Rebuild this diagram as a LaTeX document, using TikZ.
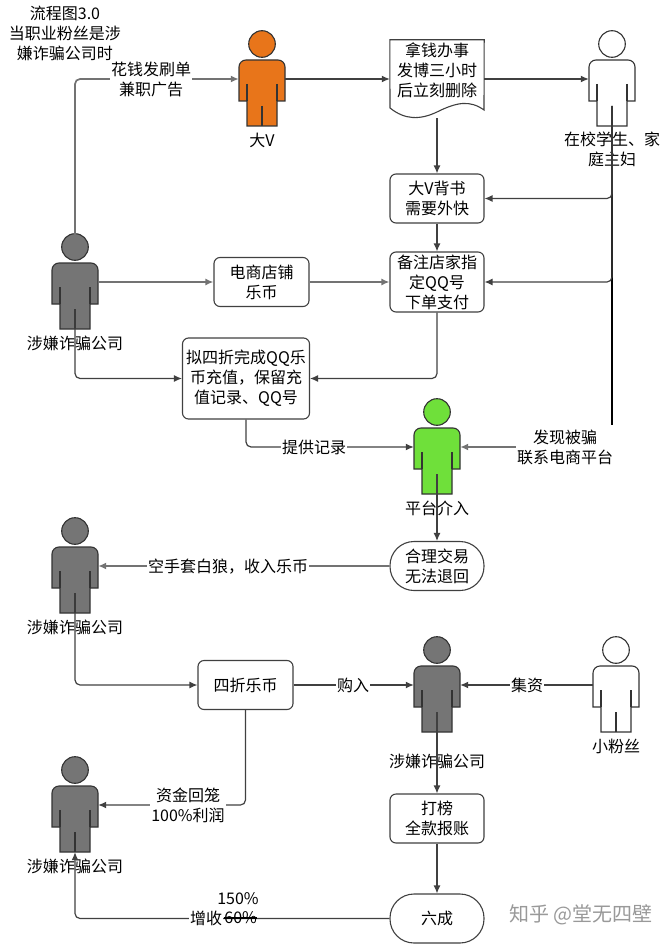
\documentclass[tikz,border=0pt]{standalone}
\usepackage{fontspec}
\setmainfont{Noto Sans CJK SC}
\usetikzlibrary{arrows.meta, positioning}

\definecolor{darkline}{HTML}{404040}
\definecolor{fillorange}{HTML}{E8751A}
\definecolor{fillgreen}{HTML}{6FE03A}
\definecolor{fillgray}{HTML}{757575}

\tikzset{
  box/.style = {draw=darkline, line width=1.1pt, rounded corners=6pt, fill=white, align=center,
                minimum width=94pt, inner sep=0pt},
  pill/.style = {box, rounded corners=24pt, minimum height=49pt},
  tag/.style = {fill=white, inner sep=1pt, align=center},
  caption/.style = {align=center, inner sep=0pt},
  flow/.style = {-{Latex[length=8pt,width=7pt]}, darkline, line width=1.2pt, rounded corners=5pt},
  flowthick/.style = {flow, line width=1.7pt, draw=black!55},
  person/.style = {minimum width=46pt, minimum height=94pt, inner sep=0pt}
}

% caption gap, name, position, fill colour, caption
\newcommand{\actor}[5][7pt]{
  \node (#2) [person] at (#3) {};
  \begin{scope}[shift={(#2.center)}, fill=#4, draw=black!80, line width=1.1pt]
    \filldraw (0,35) circle (13.3);
    \filldraw (-23,-22) -- (-23,12) arc (180:90:7) -- (16,19) arc (90:0:7)
      -- (23,-22) -- (15,-22) -- (15,-47) -- (-15,-47) -- (-15,-22) -- cycle;
    \draw (-15,-5) -- (-15,-22) (15,-5) -- (15,-22) (0,-27) -- (0,-47);
  \end{scope}
  \coordinate (#2-leg) at ([yshift=-27pt]#2.center);
  \node (#2-cap) [caption, below=#1 of #2] {#5};
}

\begin{document}
\begin{tikzpicture}[x=1pt, y=1pt, font=\fontsize{16}{20}\selectfont]
  \useasboundingbox (0,0) rectangle (669,-944);

  \actor{dav}{262,-79}{fillorange}{大V}
  \actor[6pt]{fan}{612,-79}{white}{在校学生、家\\庭主妇}
  \actor{coa}{75,-282}{fillgray}{涉嫌诈骗公司}
  \actor{plat}{437,-447}{fillgreen}{平台介入}
  \actor{cob}{75,-566}{fillgray}{涉嫌诈骗公司}
  \actor[22pt]{coc}{437,-685}{fillgray}{涉嫌诈骗公司}
  \actor{small}{616,-685}{white}{小粉丝}
  \actor{cod}{75,-805}{fillgray}{涉嫌诈骗公司}

  \node (doc) [minimum width=94pt, minimum height=78pt, inner sep=0pt] at (437,-79) {};
  \draw [darkline, line width=1.1pt, fill=white] (doc.north west) -- (doc.north east) -- (484,-110)
    .. controls (470,-100) and (457,-102) .. (437,-112)
    .. controls (420,-120) and (405,-120) .. (390,-108) -- cycle;
  \node (doctext) [caption] at (437,-70) {拿钱办事\\发博三小时\\后立刻删除};

  \node (back) [box, minimum height=49pt] at (437,-198.5) {大V背书\\需要外快};
  \node (note) [box, minimum height=60pt] at (437,-282) {备注店家指\\定QQ号\\下单支付};
  \node (shop) [box, minimum width=95pt, minimum height=49pt] at (261.5,-282) {电商店铺\\乐币};
  \node (qbi) [box, minimum width=127pt, minimum height=81pt] at (246,-378.5) {拟四折完成QQ乐\\币充值，保留充\\值记录、QQ号};
  \node (deal) [pill] at (437,-566) {合理交易\\无法退回};
  \node (sizhe) [box, minimum width=95pt, minimum height=49pt] at (245.5,-685) {四折乐币};
  \node (rank) [box, minimum height=49pt] at (437,-818.5) {打榜\\全款报账};
  \node (six) [pill] at (437,-918.5) {六成};

  \draw [flowthick] (coa.north) |- (dav);
  \draw [flow] (dav) -- (doc);
  \draw [flow] (doc) -- (fan);
  \draw [flow] (doc) -- (back);
  \draw [flow] (back) -- (note);
  \draw [flowthick] (coa) -- (shop);
  \draw [flowthick] (shop) -- (note);
  \draw [flow] (note.south) |- (qbi);
  \draw [flow] (coa-leg) |- (qbi);
  \draw [flow] (qbi.south) |- (plat);
  \coordinate (fanend) at (612,-425);
  \draw [black, line width=1.1pt] (fan-leg) -- (fanend);
  \draw [flow] (fan-leg) |- (back);
  \draw [flow] (fan-leg) |- (note);
  \coordinate (cheat) at (517,-447);
  \draw [flowthick] (cheat) -- (plat);
  \draw [flow] (plat-leg) -- (deal);
  \draw [flowthick] (deal) -- (cob);
  \draw [flow] (cob-leg) |- (sizhe);
  \draw [flow] (sizhe) -- (coc);
  \draw [flow] (small) -- (coc);
  \draw [flow] (coc-leg) -- (rank);
  \draw [flow] (rank) -- (six);
  \draw [flow] (sizhe.south) |- (cod);
  \draw [flow] (six) -| (cod.south);

  \node (title) [caption] at (65,-33) {流程图3.0\\当职业粉丝是涉\\嫌诈骗公司时};
  \node (ads) [tag] at (151,-79) {花钱发刷单\\兼职广告};
  \node (rec) [tag] at (314,-447) {提供记录};
  \node (found) [tag] at (565,-447) {发现被骗\\联系电商平台};
  \node (white) [tag] at (228,-567) {空手套白狼，收入乐币};
  \node (buy) [tag] at (353,-685) {购入};
  \node (fund) [tag] at (527,-685) {集资};
  \node (back2) [tag] at (188,-805) {资金回笼\\100\%利润};
  \node (rate) [caption] at (238,-899) {150\%};
  \node (gain) [tag] at (206,-918) {增收};
  \node (old) [caption, right=1pt of gain] {60\%};
  \draw [black, line width=1.6pt] (old.west) -- (old.east);
  \node (mark) [text=black!40, font=\fontsize{20}{22}\selectfont] at (581,-915) {知乎 @堂无四壁};
\end{tikzpicture}
\end{document}
